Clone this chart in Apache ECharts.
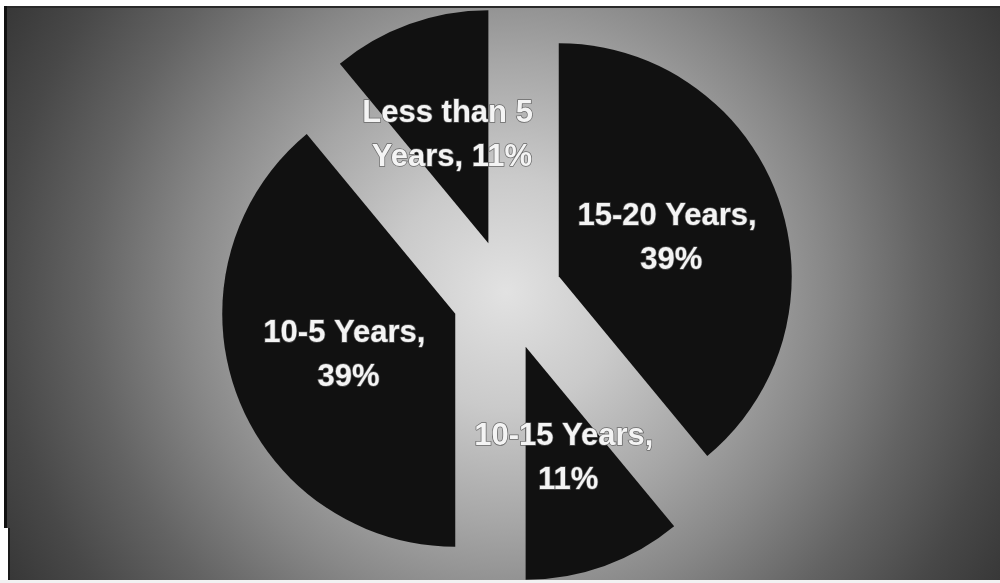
<!DOCTYPE html>
<html>
<head>
<meta charset="utf-8">
<title>Years of Experience</title>
<script src="https://cdn.jsdelivr.net/npm/echarts@6/dist/echarts.min.js"></script>
<style>
  html, body { margin: 0; padding: 0; background: #ffffff; }
  #chart { width: 1000px; height: 583px; }
</style>
</head>
<body>
<div id="chart"></div>
<script>
// Slices, clockwise from twelve o'clock
const categories = ['15-20 Years', '10-15 Years', '10-5 Years', 'Less than 5 Years'];
const shares = [39, 11, 39, 11];

const chart = echarts.init(document.getElementById('chart'), null, { renderer: 'canvas' });

// pie geometry
const pieCenter = [507, 295];
const pieRadius = 233;
const explode = 55;

const pieData = categories.map((name, i) => ({ name: name, value: shares[i], selected: true }));

// Slice labels sit halfway out along each exploded slice's bisector,
// the same spot the pie uses for its own inside labels.
const total = shares.reduce((a, b) => a + b, 0);
let cum = 0;
const labelElements = categories.map((name, i) => {
  const mid = (cum + shares[i] / 2) / total * Math.PI * 2;
  cum += shares[i];
  const dist = explode + pieRadius / 2;
  const pct = Math.round(shares[i] / total * 100);
  return {
    type: 'text',
    z: 10,
    silent: true,
    x: pieCenter[0] + dist * Math.sin(mid) + 3,
    y: pieCenter[1] - dist * Math.cos(mid) + 2,
    style: {
      text: name + ', ' + pct + '%',
      width: 200,
      overflow: 'break',
      align: 'center',
      verticalAlign: 'middle',
      fontFamily: '"Liberation Sans", Arial, sans-serif',
      fontWeight: 'bold',
      fontSize: 31,
      lineHeight: 44,
      fill: '#f4f4f4',
      stroke: 'rgba(90,90,90,0.85)',
      lineWidth: 1.5
    }
  };
});

chart.setOption({
  animation: false,
  backgroundColor: '#ffffff',
  graphic: {
    elements: [
      // radial grey backdrop, light in the middle and dark at the borders
      {
        type: 'rect',
        z: -10,
        silent: true,
        shape: { x: 6, y: 6, width: 994, height: 574 },
        style: {
          fill: new echarts.graphic.RadialGradient(506, 292, 580, [
            { offset: 0, color: '#e2e2e2' },
            { offset: 0.2, color: '#cacaca' },
            { offset: 0.4, color: '#a6a6a6' },
            { offset: 0.55, color: '#888888' },
            { offset: 0.72, color: '#636363' },
            { offset: 0.87, color: '#484848' },
            { offset: 1, color: '#363636' }
          ], true)
        }
      },
      // frame lines
      { type: 'rect', z: -9, silent: true, shape: { x: 4, y: 6, width: 996, height: 2 }, style: { fill: '#2a2a2a' } },
      { type: 'rect', z: -9, silent: true, shape: { x: 4, y: 6, width: 3, height: 522 }, style: { fill: '#111111' } },
      { type: 'rect', z: -9, silent: true, shape: { x: 0, y: 528, width: 8, height: 55 }, style: { fill: '#ffffff' } },
      { type: 'rect', z: -9, silent: true, shape: { x: 8, y: 528, width: 2, height: 52 }, style: { fill: '#1a1a1a' } },
      { type: 'rect', z: -9, silent: true, shape: { x: 0, y: 580, width: 1000, height: 3 }, style: { fill: '#f2f2f2' } }
    ].concat(labelElements)
  },
  series: [{
    type: 'pie',
    silent: true,
    z: 2,
    center: pieCenter,
    radius: [0, pieRadius],
    startAngle: 90,
    clockwise: true,
    selectedMode: 'multiple',
    selectedOffset: explode,
    avoidLabelOverlap: false,
    itemStyle: { color: '#111111' },
    label: { show: false },
    labelLine: { show: false },
    emphasis: { disabled: true },
    data: pieData
  }]
});
</script>
</body>
</html>
